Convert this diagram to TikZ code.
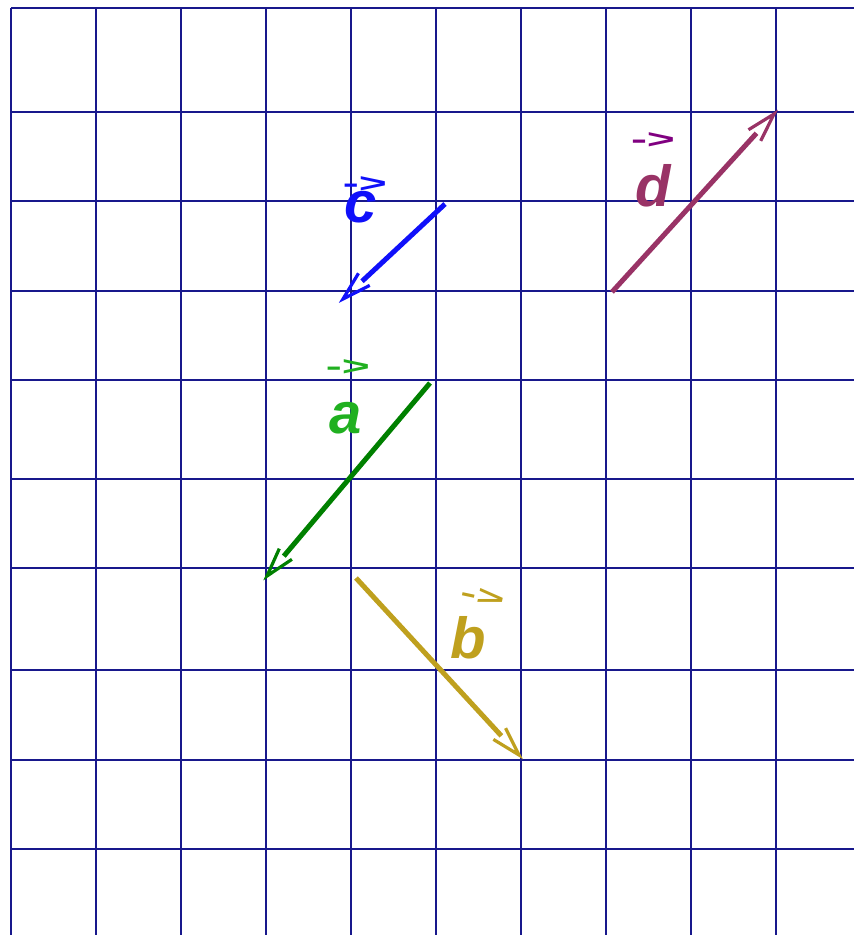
\documentclass[tikz,border=0pt]{standalone}
\usepackage{fontspec}
\newfontfamily\vecfont{Liberation Sans}
\usetikzlibrary{calc}

\definecolor{gridblue}{RGB}{24,24,140}
\definecolor{vecc}{RGB}{16,16,250}
\definecolor{vecd}{RGB}{153,51,102}
\definecolor{vecdarrow}{RGB}{128,0,128}
\definecolor{veca}{RGB}{0,128,0}
\definecolor{vecalabel}{RGB}{32,176,32}
\definecolor{vecb}{RGB}{191,160,30}

\begin{document}
\begin{tikzpicture}[
  x=0.5pt, y=-0.5pt,
  gridline/.style={gridblue, line width=0.6pt},
  shaft/.style={line width=2.5pt, shorten >=13pt},
  barb/.style={line width=1.6pt, line join=miter},
  letter/.style={inner sep=0pt, font=\vecfont\bfseries\itshape\fontsize{29}{29}\selectfont},
  overarrow/.style={inner sep=0pt, text height=8pt, text depth=0pt,
    font=\vecfont\bfseries\fontsize{24}{24}\selectfont}
]
\useasboundingbox (0,0) rectangle (854,935);

% grid
\foreach \gx in {11,96,...,776}
  \draw[gridline] (\gx,8) -- (\gx,935);
\foreach \gy in {8,112,201,291,380,479,568,670,760,849}
  \draw[gridline] (11,\gy) -- (854,\gy);

% vector end points
\coordinate (cS) at (445,204);
\coordinate (cE) at (343,299);
\coordinate (dS) at (612,292);
\coordinate (dE) at (774,114);
\coordinate (aS) at (430,383);
\coordinate (aE) at (267,576);
\coordinate (bS) at (356,578);
\coordinate (bE) at (519,755);

\foreach \v/\col in {c/vecc,d/vecd,a/veca,b/vecb}{
  \draw[shaft,\col] (\v S) -- (\v E);
  \draw[barb,\col] ($(\v E)!15pt!16:(\v S)$) -- (\v E) -- ($(\v E)!15pt!-16:(\v S)$);
}

% labels
\node[letter,text=vecc] (cLbl) at (361,207) {c};
\node[overarrow,text=vecc] (cArr) at (365,185) {\scalebox{1}[0.55]{->}};
\node[letter,text=vecd] (dLbl) at (653,186) {d};
\node[overarrow,text=vecdarrow] (dArr) at (653,141) {\scalebox{1}[0.55]{->}};
\node[letter,text=vecalabel] (aLbl) at (346,418) {a};
\node[overarrow,text=vecalabel] (aArr) at (348,367) {\scalebox{1}[0.55]{->}};
\node[letter,text=vecb] (bLbl) at (468,638) {b};
\node[overarrow,text=vecb,rotate=-12] (bArr) at (483,597) {\scalebox{1}[0.55]{->}};
\end{tikzpicture}
\end{document}
